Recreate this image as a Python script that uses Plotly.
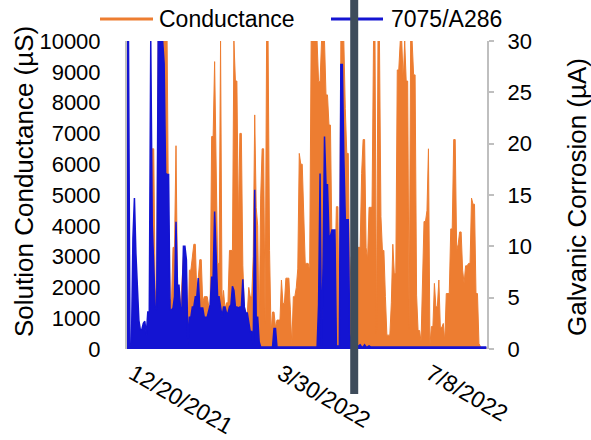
import pandas as pd
import plotly.graph_objects as go

# ---------------- data ----------------
start_date = "2021-12-20"   # first daily sample

# Solution conductance (µS), one value per day
conductance = [
    200, 200, 0, 0, 800, 900, 800, 600, 500, 400, 400, 500, 500, 300, 800, 900, 1000,
    6500, 6500, 1800, 2000, 10000, 10000, 10000, 10000, 10000, 10000, 10000, 4000,
    1600, 1600, 3300, 3300, 6600, 2000, 2000, 1300, 2000, 3000, 3000, 2500, 300,
    2560, 2560, 2900, 3400, 3400, 1800, 2300, 2900, 2900, 1500, 1700, 1700, 1700, 1400, 1400,
    6900, 6900, 9330, 5100, 2780, 2780, 10000, 1500, 1900, 1300, 1500, 1500, 3200,
    3200, 3200, 10000, 8700, 8700, 4000, 7000, 7000, 2700, 1370, 1150, 1150, 2000,
    1700, 1700, 3000, 7600, 4600, 4000, 400, 4900, 6500, 6500, 830, 10000, 10000, 3200, 500, 1200, 1200,
    700, 940, 940, 940, 2240, 1480, 1480, 2300, 2300, 2300, 1270, 130, 1700, 1700, 2000, 2600,
    6350, 6000, 6000, 3860, 2780, 2780, 2780, 2560,
    10000, 10000, 10000, 10000, 10000, 8680, 8680, 10000, 10000, 10000, 8250, 8250, 7270, 7270,
    3430, 3430, 2350, 4620, 4620, 0, 10000, 10000, 10000, 7800, 6350, 6350, 1900,
    3000, 3000, 3000, 3000, 3300,
    3300, 3300, 5700, 6800, 6800, 3300, 2900, 4600, 4600, 4600, 10000, 10000, 500, 10000, 10000,
    4300, 3200, 3200, 1700, 450, 450, 450, 1500, 3400, 2450, 2450,
    9060, 9060, 10000, 10000, 8700, 10000, 8700, 8700, 620, 10000, 10000, 8900, 8900, 1750, 600,
    600, 240, 2130, 4140, 4140, 4500, 6500, 130, 730, 730,
    2130, 1370, 1370, 2240, 700, 700, 830, 240, 1800, 1800, 1800, 3900, 3900, 6800, 6800, 3200,
    3400, 3800, 3800, 2560, 2130, 2700, 2700, 2780, 2780, 4900, 4700, 4700, 1800, 1800, 180, 80,
    20, 20, 20, 20,
]

# Galvanic corrosion 7075/A286 (µA), one value per day
galvanic = [
    30, 30, 0.3, 0.5, 10.8, 14.7, 9.3, 5.4, 2.8, 1.85, 1.9, 2.5, 2.7, 1.4, 3.6, 3.6, 30,
    12.1, 8, 4.1, 3.8, 30, 30, 30, 30, 27.8, 17.1, 17, 17,
    3.8, 3.8, 4, 5.1, 12.4, 6.2, 6.2, 4, 4, 10, 10, 8.7, 0.4,
    3.1, 3.1, 4.1, 4.1, 5.1, 5.1, 6.9, 4, 4, 4, 3.1, 3.1, 3.1, 3.7, 4.3,
    7, 7, 13.4, 10, 5.1, 5.1, 4.1, 3.1, 4.1, 4.1, 3.5, 3.5, 4.1,
    4.3, 6.1, 5.7, 4.1, 4.1, 4, 4.1, 4.1, 6.8, 4.1, 3.5, 3.5, 2.5,
    1.7, 1.7, 0.4, 15.5, 3.1, 3.1, 0.7, 0.2, 0.2, 0.2, 0.2, 0.2, 0.2, 0.2, 0.2, 0.2, 2,
    2, 0.2, 0.2, 0.2, 0.2, 0.2, 0.2, 0.2, 0.2, 0.2, 0.2, 0.2, 0.2, 0.2, 0.2, 0.2,
    0.2, 0.2, 0.2, 0.2, 0.2, 0.2, 0.2, 0.2,
    0.2, 0.2, 0.2, 0.2, 0.2, 4.3, 17.1, 0.3, 8, 20.7, 16, 16, 11, 11,
    11.6, 11.6, 11.6, 0.3, 0.3, 0.3, 27.7, 27.7, 18.7, 12.6, 12.6, 12.6, 1.5,
    0.3, 0.3, 0.3, 0.3, 0.3,
    0.3, 0.4, 0.2, 0.2, 0.4, 0.2, 0.2, 0.3, 0.2, 0.2, 0.2, 0.2, 0.2, 0.2, 0.2,
    0.2, 0.2, 0.2, 0.2, 0.2, 0.2, 0.2, 0.2, 0.2, 0.2, 0.2,
    0.2, 0.2, 0.2, 0.2, 0.2, 0.2, 0.2, 0.2, 0.2, 0.2, 0.2, 0.2, 0.2, 0.2, 0.2,
    0.2, 0.2, 0.2, 0.2, 0.2, 0.2, 0.2, 0.2, 0.2, 0.2,
    0.2, 0.2, 0.2, 0.2, 0.2, 0.2, 0.2, 0.2, 0.2, 0.2, 0.2, 0.2, 0.2, 0.2, 0.2, 0.2,
    0.2, 0.2, 0.2, 0.2, 0.2, 0.2, 0.2, 0.2, 0.2, 0.2, 0.2, 0.2, 0.2, 0.2, 0.2, 0.2,
    0.2, 0.2, 0.2, 0.2,
]

tick_dates = ["2021-12-20", "2022-03-30", "2022-07-08"]
tick_labels = ["12/20/2021", "3/30/2022", "7/8/2022"]
x_range = ["2021-12-20", "2022-08-19 10:00"]
marker_date = "2022-05-22"   # dark vertical marker line

series_names = ["Conductance", "7075/A286"]
axis_titles = ["Solution Conductance (µS)", "Galvanic Corrosion (µA)"]

# ---------------- styling ----------------
ORANGE = "#ED7D31"
BLUE = "#1414D2"
BAR = "#3E4C5B"
AXIS_GRAY = "#BFBFBF"
FONT = "Liberation Sans, Arial, sans-serif"

dates_c = pd.date_range(start_date, periods=len(conductance), freq="D")
dates_g = pd.date_range(start_date, periods=len(galvanic), freq="D")

fig = go.Figure()
fig.add_trace(go.Scatter(
    x=dates_c, y=conductance, mode="lines", name=series_names[0],
    line=dict(color=ORANGE, width=1), fill="tozeroy", fillcolor=ORANGE,
    yaxis="y",
))
fig.add_trace(go.Scatter(
    x=dates_g, y=galvanic, mode="lines", name=series_names[1],
    line=dict(color=BLUE, width=1.5), fill="tozeroy", fillcolor=BLUE,
    yaxis="y2",
))

# plot area: x 127..487 px, y 41..349 px
PL, PR, PT, PB = 127, 487, 41, 349
W, H = 591, 440
pw, ph = PR - PL, PB - PT


def px_x(px):
    return (px - PL) / pw


def px_y(py):
    return (PB - py) / ph


shapes = [
    # custom legend samples
    dict(type="line", xref="paper", yref="paper", x0=px_x(100), x1=px_x(153),
         y0=px_y(19), y1=px_y(19), line=dict(color=ORANGE, width=3), layer="above"),
    dict(type="line", xref="paper", yref="paper", x0=px_x(331), x1=px_x(383),
         y0=px_y(19), y1=px_y(19), line=dict(color=BLUE, width=3), layer="above"),
    # dark vertical marker
    dict(type="line", xref="x", yref="paper", x0=marker_date, x1=marker_date,
         y0=px_y(394), y1=px_y(-2), line=dict(color=BAR, width=8), layer="above"),
]

annotations = [
    dict(xref="paper", yref="paper", x=px_x(157), y=px_y(19), text=series_names[0],
         showarrow=False, xanchor="left", yanchor="middle",
         font=dict(family=FONT, size=23, color="#000")),
    dict(xref="paper", yref="paper", x=px_x(389), y=px_y(19), text=series_names[1],
         showarrow=False, xanchor="left", yanchor="middle",
         font=dict(family=FONT, size=23, color="#000")),
    # axis titles
    dict(xref="paper", yref="paper", x=px_x(24), y=px_y(182), text=axis_titles[0],
         showarrow=False, xanchor="center", yanchor="middle", textangle=-90,
         font=dict(family=FONT, size=26, color="#000")),
    dict(xref="paper", yref="paper", x=px_x(577), y=px_y(197), text=axis_titles[1],
         showarrow=False, xanchor="center", yanchor="middle", textangle=-90,
         font=dict(family=FONT, size=26, color="#000")),
]

fig.update_layout(
    width=W, height=H,
    margin=dict(l=PL, r=W - PR, t=PT, b=H - PB, pad=0, autoexpand=False),
    paper_bgcolor="white", plot_bgcolor="white",
    showlegend=False,
    font=dict(family=FONT, size=22, color="#000"),
    shapes=shapes, annotations=annotations,
    xaxis=dict(
        type="date", range=x_range, tickvals=tick_dates, ticktext=tick_labels,
        tickangle=30, showgrid=False, zeroline=False, showline=False, ticks="",
        tickfont=dict(size=23), ticklabelstandoff=6, ticklabelshift=6,
        automargin=False,
    ),
    yaxis=dict(
        range=[0, 10000], dtick=1000, tickformat="d", showgrid=False, zeroline=False,
        showline=True, linecolor=AXIS_GRAY, linewidth=2, ticks="",
        tickfont=dict(size=22), ticklabelstandoff=20, automargin=False,
    ),
    yaxis2=dict(
        overlaying="y", side="right", range=[0, 30], dtick=5,
        showgrid=False, zeroline=False, showline=True, linecolor=AXIS_GRAY,
        linewidth=2, ticks="outside", ticklen=5, tickcolor=AXIS_GRAY, tickwidth=2,
        tickfont=dict(size=22), ticklabelstandoff=9, automargin=False,
    ),
)

fig.write_html(
    "out.html",
    config={"displayModeBar": False},
    post_script="document.body.style.margin='0px';",
)
